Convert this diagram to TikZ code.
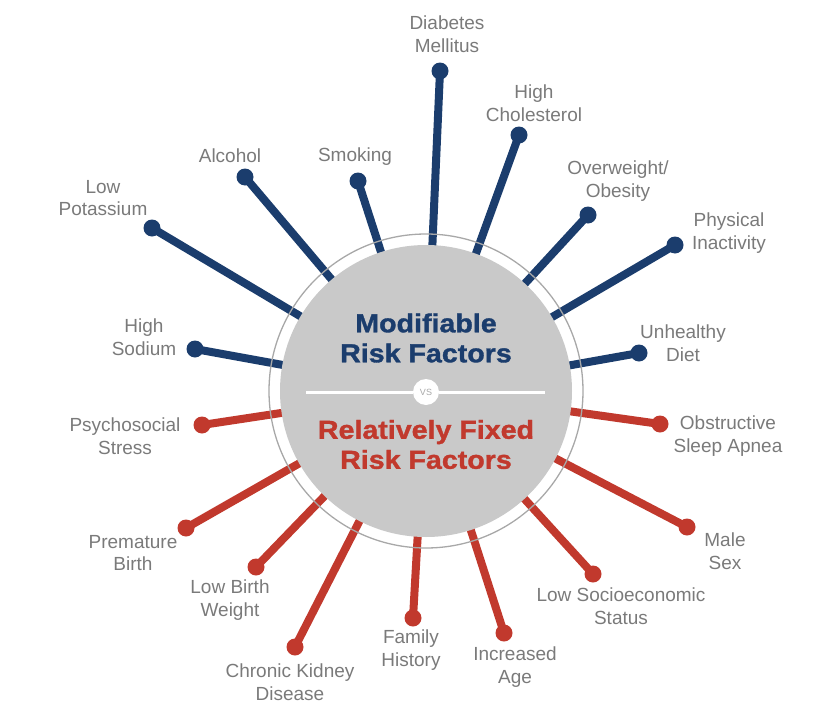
\documentclass[tikz,border=0pt]{standalone}
\usepackage{fontspec}
\setmainfont{Liberation Sans}
\newfontfamily\headfont[FakeStretch=1.1, FakeBold=1.3]{Liberation Sans}
\definecolor{navy}{HTML}{1B3D6D}
\definecolor{brick}{HTML}{C1392D}
\definecolor{hubgray}{HTML}{C9C9C9}
\definecolor{ringgray}{HTML}{A8A8A8}
\definecolor{labgray}{HTML}{7A7A7A}
\tikzset{
 spokeb/.style={line width=8pt, draw=navy},
 spoker/.style={line width=8pt, draw=brick},
 dotb/.style={circle, fill=navy, minimum size=17pt, inner sep=0pt},
 dotr/.style={circle, fill=brick, minimum size=17pt, inner sep=0pt},
 lab/.style={align=center, text=labgray, font=\fontsize{19}{22.5}\selectfont, inner sep=0pt},
 head/.style={align=center, font=\headfont\bfseries\fontsize{26}{30}\selectfont, inner sep=0pt},
}
\begin{document}
\begin{tikzpicture}[x=1pt,y=-1pt]
\useasboundingbox (0,0) rectangle (831,707);
\coordinate (c) at (426,391);
% dots
\node[dotb] (d1) at (440,71) {};
\node[dotb] (d2) at (519,135) {};
\node[dotb] (d3) at (588,215) {};
\node[dotb] (d4) at (675,245) {};
\node[dotb] (d5) at (639,353) {};
\node[dotr] (d6) at (660,424) {};
\node[dotr] (d7) at (687,527) {};
\node[dotr] (d8) at (593,574) {};
\node[dotr] (d9) at (504,633) {};
\node[dotr] (d10) at (413,618) {};
\node[dotr] (d11) at (295,647) {};
\node[dotr] (d12) at (256,567) {};
\node[dotr] (d13) at (186,528) {};
\node[dotr] (d14) at (202,425) {};
\node[dotb] (d15) at (195,349) {};
\node[dotb] (d16) at (152,228) {};
\node[dotb] (d17) at (245,177) {};
\node[dotb] (d18) at (358,181) {};
% spokes
\foreach \i in {1,2,3,4,5,15,16,17,18} {\draw[spokeb] (c) -- (d\i.center);}
\foreach \i in {6,7,8,9,10,11,12,13,14} {\draw[spoker] (c) -- (d\i.center);}
% hub
\node[circle, fill=hubgray, minimum size=292pt, inner sep=0pt] (hub) at (c) {};
\node[circle, draw=ringgray, line width=1.3pt, minimum size=314pt, inner sep=0pt] (ring) at (c) {};
% divider
\node[circle, fill=white, minimum size=26pt, inner sep=0pt, font=\fontsize{9}{9}\selectfont, text=ringgray] (vs) at (426,392) {VS};
\coordinate (dl) at (306,392);
\coordinate (dr) at (545,392);
\draw[white, line width=3pt] (dl) -- (vs) -- (dr);
% center text
\node[head, text=navy] (mod) at (426,338) {Modifiable\\Risk Factors};
\node[head, text=brick] (fix) at (426,444.5) {Relatively Fixed\\Risk Factors};
% labels
\node[lab] (l1) at (447,34) {Diabetes\\Mellitus};
\node[lab] (l2) at (534,103) {High\\Cholesterol};
\node[lab] (l3) at (618,181) {Overweight/\\Obesity};
\node[lab] (l4) at (729,233) {Physical\\Inactivity};
\node[lab] (l5) at (683,343) {Unhealthy\\Diet};
\node[lab] (l6) at (728,436) {Obstructive\\Sleep Apnea};
\node[lab] (l7) at (725,551) {Male\\Sex};
\node[lab] (l8) at (621,606) {Low Socioeconomic\\Status};
\node[lab] (l9) at (515,667) {Increased\\Age};
\node[lab] (l10) at (411,650) {Family\\History};
\node[lab] (l11) at (290,682) {Chronic Kidney\\Disease};
\node[lab] (l12) at (230,600) {Low Birth\\Weight};
\node[lab] (l13) at (133,553) {Premature\\Birth};
\node[lab] (l14) at (125,436) {Psychosocial\\Stress};
\node[lab] (l15) at (144,337) {High\\Sodium};
\node[lab] (l16) at (103,198) {Low\\Potassium};
\node[lab] (l17) at (230,156) {Alcohol};
\node[lab] (l18) at (355,157) {Smoking};
\end{tikzpicture}
\end{document}
